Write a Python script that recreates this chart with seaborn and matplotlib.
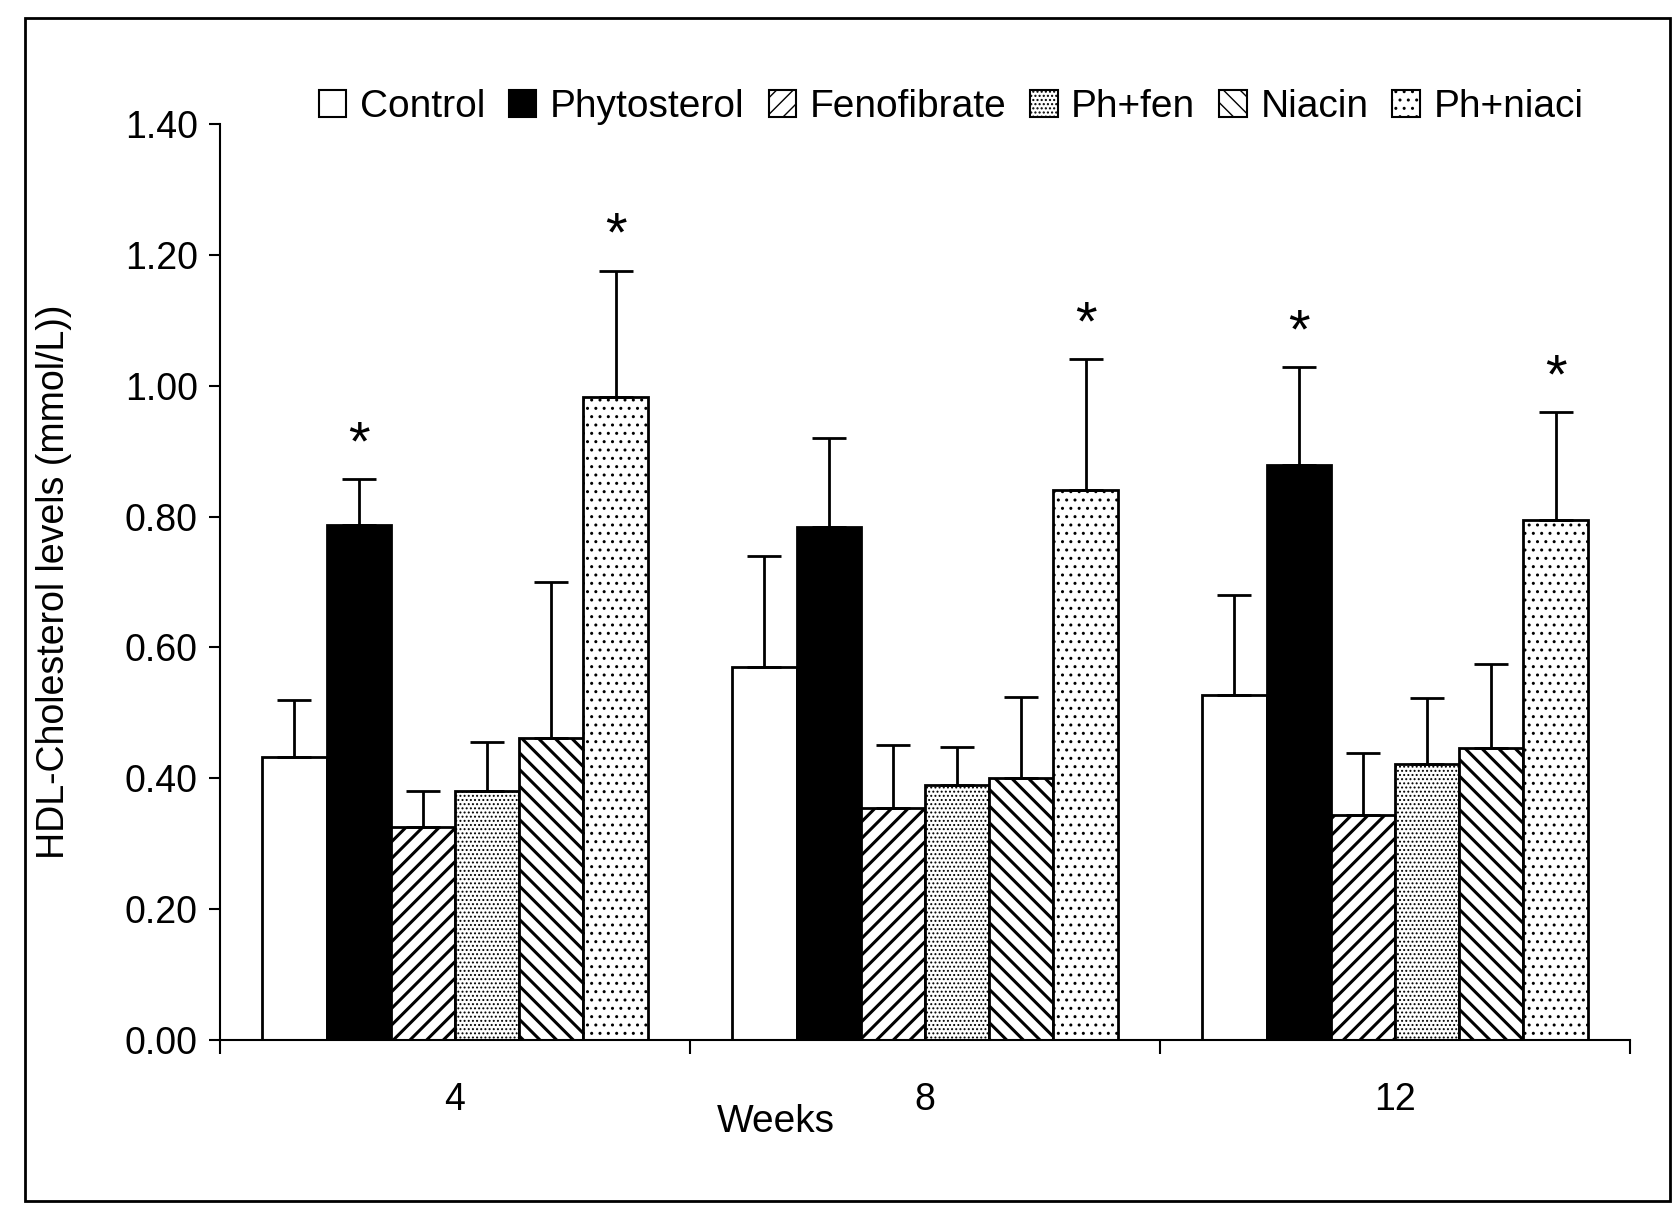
import pandas as pd
import matplotlib
matplotlib.use("Agg")
import matplotlib.pyplot as plt
import seaborn as sns
from matplotlib.patches import Rectangle

# Data (mean and upward SD, mmol/L)
weeks = ['4', '8', '12']
groups = ['Control', 'Phytosterol', 'Fenofibrate', 'Ph+fen', 'Niacin', 'Ph+niaci']
control = [0.433, 0.570, 0.527]
phytosterol = [0.787, 0.784, 0.878]
fenofibrate = [0.325, 0.354, 0.344]
ph_fen = [0.380, 0.389, 0.422]
niacin = [0.461, 0.400, 0.446]
ph_niaci = [0.983, 0.840, 0.794]
control_sd = [0.086, 0.170, 0.153]
phytosterol_sd = [0.070, 0.136, 0.150]
fenofibrate_sd = [0.055, 0.096, 0.094]
ph_fen_sd = [0.075, 0.058, 0.100]
niacin_sd = [0.239, 0.124, 0.129]
ph_niaci_sd = [0.193, 0.200, 0.166]
# significant bars (group, week)
stars = [('Phytosterol', '4'), ('Ph+niaci', '4'), ('Ph+niaci', '8'),
         ('Phytosterol', '12'), ('Ph+niaci', '12')]

means = [control, phytosterol, fenofibrate, ph_fen, niacin, ph_niaci]
sds = [control_sd, phytosterol_sd, fenofibrate_sd, ph_fen_sd, niacin_sd, ph_niaci_sd]
rows = []
for g, m, s in zip(groups, means, sds):
    for w, v, e in zip(weeks, m, s):
        rows.append({'Weeks': w, 'Group': g, 'HDL': v, 'SD': e})
df = pd.DataFrame(rows)

sns.set_style("white")
plt.rcParams['font.family'] = ['Liberation Sans', 'DejaVu Sans']
plt.rcParams.update({'text.color': 'black', 'axes.labelcolor': 'black',
                     'xtick.color': 'black', 'ytick.color': 'black'})

fills = ['white', 'black', 'white', 'white', 'white', 'white']
hatches = ['', '', '//', '....', '\\\\', '..']
hatch_lw = [1, 1, 2.2, 0.9, 2.2, 1.0]

fig = plt.figure(figsize=(16.78, 12.13), dpi=100)
ax = fig.add_axes([0.1311, 0.1427, 0.8403, 0.7551])

sns.barplot(data=df, x='Weeks', y='HDL', hue='Group', order=weeks, hue_order=groups,
            palette=fills, edgecolor='black', linewidth=2, width=0.82, gap=0,
            errorbar=None, legend=False, ax=ax)

bar_containers = list(ax.containers)
for i, cont in enumerate(bar_containers):
    g = groups[i]
    for j, bar in enumerate(cont):
        bar.set_facecolor(fills[i])
        bar.set_edgecolor('black')
        if hatches[i]:
            bar.set_hatch(hatches[i])
            if hasattr(bar, 'set_hatch_linewidth'):
                bar.set_hatch_linewidth(hatch_lw[i])
        x = bar.get_x() + bar.get_width() / 2
        y = bar.get_height()
        e = sds[i][j]
        ax.errorbar(x, y, yerr=[[0], [e]], fmt='none', ecolor='black',
                    elinewidth=2, capsize=12, capthick=2, zorder=3)
        if (g, weeks[j]) in stars:
            ax.text(x, y + e + 0.012, '*', ha='center', va='bottom', fontsize=40)

ax.set_ylim(0, 1.4)
ax.set_xlim(-0.5, 2.5)
ax.set_yticks([0, 0.2, 0.4, 0.6, 0.8, 1.0, 1.2, 1.4])
ax.set_yticklabels(['%.2f' % v for v in ax.get_yticks()])
ax.set_xticks([-0.5, 0.5, 1.5, 2.5])
ax.set_xticklabels([])
ax.set_xticks([0, 1, 2], minor=True)
ax.set_xticklabels(weeks, minor=True)
ax.tick_params(axis='x', which='major', direction='out', length=10, width=1.5, bottom=True)
ax.tick_params(axis='x', which='minor', length=0, pad=30, labelsize=27)
ax.tick_params(axis='y', direction='out', length=8, width=1.5, pad=8, labelsize=27, left=True)

for side in ['top', 'right']:
    ax.spines[side].set_visible(False)
for side in ['left', 'bottom']:
    ax.spines[side].set_color('black')
    ax.spines[side].set_linewidth(1.5)

ax.set_ylabel("HDL-Cholesterol levels (mmol/L))", fontsize=27)
ax.yaxis.set_label_coords(-0.105, 0.5)
ax.set_xlabel("Weeks", fontsize=28, va='center')
ax.xaxis.set_label_coords(0.394, -0.09)

handles = []
for i, g in enumerate(groups):
    h = Rectangle((0, 0), 1, 1, facecolor=fills[i], edgecolor='black', linewidth=1.5,
                  hatch=hatches[i] if hatches[i] else None, label=g)
    handles.append(h)
fig.legend(handles=handles, loc='center left', bbox_to_anchor=(0.19, 0.912),
           ncol=6, frameon=False, fontsize=28, handlelength=0.7, handleheight=0.7,
           handletextpad=0.35, columnspacing=0.62, borderpad=0, borderaxespad=0)

# frame around the whole figure
fig.patches.append(Rectangle((0.015, 0.01), 0.98, 0.975, transform=fig.transFigure,
                             fill=False, edgecolor='black', linewidth=2))

plt.savefig("out.png", dpi=100)
